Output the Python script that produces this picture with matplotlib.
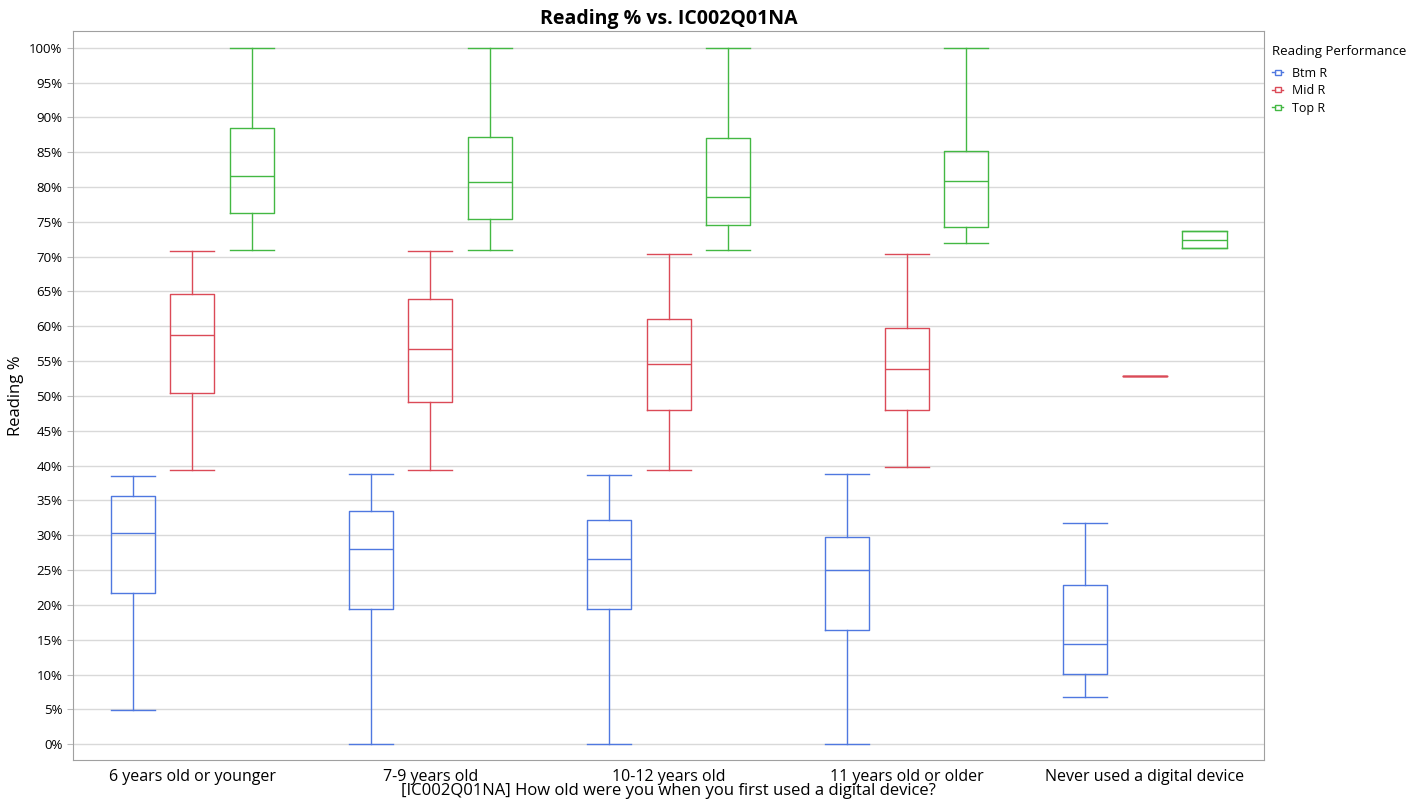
import matplotlib
matplotlib.use("Agg")
import matplotlib.pyplot as plt
from matplotlib.legend_handler import HandlerBase
from matplotlib.patches import Rectangle
from matplotlib.lines import Line2D
from matplotlib.ticker import PercentFormatter

plt.rcParams['font.family'] = ['Open Sans', 'DejaVu Sans']

categories = ["6 years old or younger", "7-9 years old", "10-12 years old",
              "11 years old or older", "Never used a digital device"]
groups = ["Btm R", "Mid R", "Top R"]
colors = {"Btm R": "#4f78e0", "Mid R": "#db4a57", "Top R": "#43b843"}

# Box statistics per group (values in %), one entry per category
btm_whislo = [4.9, 0.0, 0.0, 0.0, 6.75]
btm_q1 = [21.7, 19.4, 19.4, 16.4, 10.1]
btm_med = [30.3, 28.0, 26.6, 25.0, 14.4]
btm_q3 = [35.6, 33.5, 32.2, 29.7, 22.9]
btm_whishi = [38.5, 38.8, 38.6, 38.8, 31.75]

mid_whislo = [39.4, 39.4, 39.4, 39.8, 52.9]
mid_q1 = [50.4, 49.1, 48.0, 48.0, 52.9]
mid_med = [58.8, 56.7, 54.6, 53.9, 52.9]
mid_q3 = [64.6, 63.9, 61.1, 59.8, 52.9]
mid_whishi = [70.8, 70.8, 70.4, 70.4, 52.9]

top_whislo = [71.0, 71.0, 71.0, 72.0, 71.2]
top_q1 = [76.2, 75.4, 74.6, 74.3, 71.2]
top_med = [81.6, 80.7, 78.6, 80.9, 72.4]
top_q3 = [88.4, 87.2, 87.1, 85.1, 73.75]
top_whishi = [100.0, 100.0, 100.0, 100.0, 73.75]

series = {
    "Btm R": (btm_whislo, btm_q1, btm_med, btm_q3, btm_whishi),
    "Mid R": (mid_whislo, mid_q1, mid_med, mid_q3, mid_whishi),
    "Top R": (top_whislo, top_q1, top_med, top_q3, top_whishi),
}

fig = plt.figure(figsize=(14.1, 8.07), dpi=100)
ax = fig.add_axes([0.0518, 0.058, 0.8447, 0.9036])

offsets = {"Btm R": -0.25, "Mid R": 0.0, "Top R": 0.25}
width = 0.185
lw = 1.0
for g in groups:
    lo, q1, med, q3, hi = series[g]
    stats = []
    for i in range(len(categories)):
        stats.append(dict(whislo=lo[i], q1=q1[i], med=med[i], q3=q3[i],
                          whishi=hi[i], fliers=[]))
    c = colors[g]
    pos = [i + offsets[g] for i in range(len(categories))]
    ax.bxp(stats, positions=pos, widths=width, showfliers=False,
           boxprops=dict(color=c, linewidth=lw),
           medianprops=dict(color=c, linewidth=lw),
           whiskerprops=dict(color=c, linewidth=lw),
           capprops=dict(color=c, linewidth=lw),
           capwidths=width, manage_ticks=False)

ax.set_xlim(-0.5, len(categories) - 0.5)
ax.set_ylim(-2.3, 102.4)
ax.set_yticks(range(0, 101, 5))
ax.yaxis.set_major_formatter(PercentFormatter(decimals=0))
ax.set_xticks(range(len(categories)))
ax.set_xticklabels(categories, fontsize=11.5)
ax.tick_params(axis='y', labelsize=9.5, length=4, color='#bbbbbb')
ax.tick_params(axis='x', length=0, pad=6)
ax.grid(axis='y', color='#d9d9d9', linewidth=1)
ax.set_axisbelow(True)
for s in ax.spines.values():
    s.set_color('#a0a0a0')

ax.set_ylabel("Reading %", fontsize=12)
ax.set_xlabel("[IC002Q01NA] How old were you when you first used a digital device?",
              fontsize=12, labelpad=-1)
ax.set_title("Reading % vs. IC002Q01NA", fontsize=14, fontweight='bold', pad=5)


class BoxHandler(HandlerBase):
    def create_artists(self, legend, orig_handle, xdescent, ydescent,
                       width, height, fontsize, trans):
        c = orig_handle.get_color()
        cx = width * 0.5 - xdescent
        cy = height * 0.5 - ydescent
        bw, bh = width * 0.5, height * 0.55
        r = Rectangle((cx - bw / 2, cy - bh / 2), bw, bh, fill=False,
                      edgecolor=c, lw=1.0, transform=trans)
        l1 = Line2D([cx - width * 0.45, cx - bw / 2], [cy, cy], color=c, lw=1.0,
                    transform=trans)
        l2 = Line2D([cx + bw / 2, cx + width * 0.45], [cy, cy], color=c, lw=1.0,
                    transform=trans)
        return [r, l1, l2]


handles = [Line2D([], [], color=colors[g]) for g in groups]
leg = ax.legend(handles, groups, title="Reading Performance",
                loc='upper left', bbox_to_anchor=(1.0, 0.985),
                frameon=False, fontsize=9, title_fontsize=9.5,
                handler_map={Line2D: BoxHandler()}, handlelength=1.0,
                handletextpad=0.6, labelspacing=0.35, borderaxespad=0.2)
leg._legend_box.align = "left"
leg.get_title().set_position((0, 4))

fig.savefig("out.png", dpi=100)
